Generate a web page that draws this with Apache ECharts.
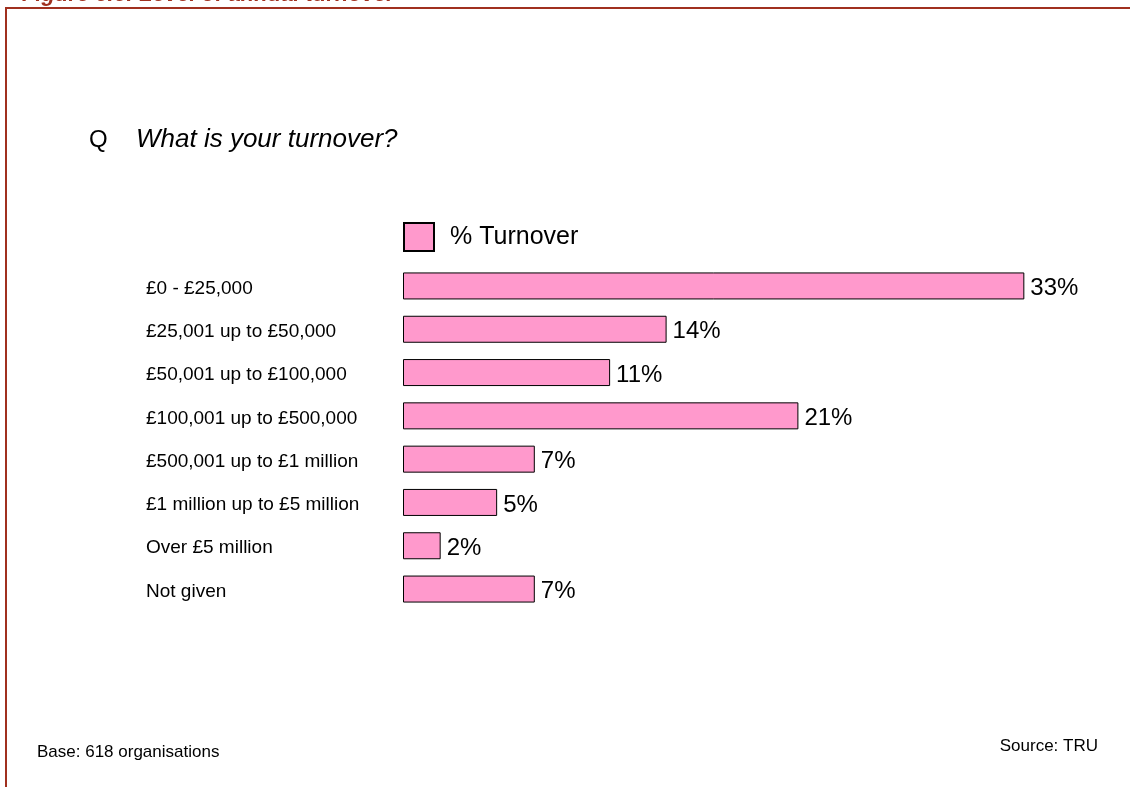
<!DOCTYPE html>
<html>
<head>
<meta charset="utf-8">
<title>Level of annual turnover</title>
<script src="https://cdn.jsdelivr.net/npm/echarts@6/dist/echarts.min.js"></script>
<style>
  html, body { margin: 0; padding: 0; background: #ffffff; }
  #chart { width: 1130px; height: 787px; }
</style>
</head>
<body>
<div id="chart"></div>
<script>
// Turnover bands (top to bottom) and share of organisations in each
const categories = [
  '£0 - £25,000',
  '£25,001 up to £50,000',
  '£50,001 up to £100,000',
  '£100,001 up to £500,000',
  '£500,001 up to £1 million',
  '£1 million up to £5 million',
  'Over £5 million',
  'Not given'
];
const turnoverPct = [33, 14, 11, 21, 7, 5, 2, 7];
const seriesName = '% Turnover';

const FONT = '"Liberation Sans", Arial, Helvetica, sans-serif';
const FRAME = '#a0301f';

const chart = echarts.init(document.getElementById('chart'));

chart.setOption({
  animation: false,
  backgroundColor: '#ffffff',
  textStyle: { fontFamily: FONT, color: '#000000' },
  grid: { left: 403, top: 264.3, width: 659, height: 346.4, containLabel: false },
  legend: {
    left: 403,
    top: 222,
    padding: 0,
    icon: 'rect',
    itemWidth: 30,
    itemHeight: 28,
    itemStyle: { borderColor: '#000000', borderWidth: 2 },
    textStyle: { fontFamily: FONT, fontSize: 25, color: '#000000', padding: [0, 0, 0, 11] },
    data: [seriesName]
  },
  xAxis: {
    type: 'value',
    min: 0,
    max: 35,
    show: false
  },
  yAxis: {
    type: 'category',
    inverse: true,
    data: categories,
    axisLine: { show: false },
    axisTick: { show: false },
    splitLine: { show: false },
    axisLabel: {
      align: 'left',
      verticalAlign: 'top',
      lineHeight: 5,
      margin: 257,
      fontFamily: FONT,
      fontSize: 19,
      color: '#000000'
    }
  },
  series: [{
    name: seriesName,
    type: 'bar',
    data: turnoverPct,
    barWidth: 27,
    itemStyle: { color: '#ff99cc', borderColor: '#000000', borderWidth: 1 },
    label: {
      show: true,
      position: 'right',
      distance: 6,
      offset: [0, 2.5],
      formatter: '{c}%',
      fontFamily: FONT,
      fontSize: 24,
      color: '#000000'
    }
  }],
  graphic: [
    // frame around the figure
    { type: 'line', shape: { x1: 6, y1: 8, x2: 1130, y2: 8 }, style: { stroke: FRAME, lineWidth: 2 } },
    { type: 'line', shape: { x1: 6, y1: 7, x2: 6, y2: 787 }, style: { stroke: FRAME, lineWidth: 2 } },
    // figure heading, sitting above the frame
    { type: 'text', x: 22, y: -5, style: {
        text: 'Figure 6.6: Level of annual turnover',
        font: 'italic bold 22px ' + FONT, fill: FRAME, verticalAlign: 'middle' } },
    // survey question
    { type: 'text', x: 89, y: 140, style: {
        text: 'Q', font: '24px ' + FONT, fill: '#000000', verticalAlign: 'middle' } },
    { type: 'text', x: 136, y: 140, style: {
        text: 'What is your turnover?', font: 'italic 26px ' + FONT, fill: '#000000', verticalAlign: 'middle' } },
    // footnotes
    { type: 'text', x: 37, y: 752.5, style: {
        text: 'Base: 618 organisations', font: '17px ' + FONT, fill: '#000000', verticalAlign: 'middle' } },
    { type: 'text', x: 1098, y: 746.5, style: {
        text: 'Source: TRU', font: '17px ' + FONT, fill: '#000000', align: 'right', verticalAlign: 'middle' } }
  ]
});
</script>
</body>
</html>
